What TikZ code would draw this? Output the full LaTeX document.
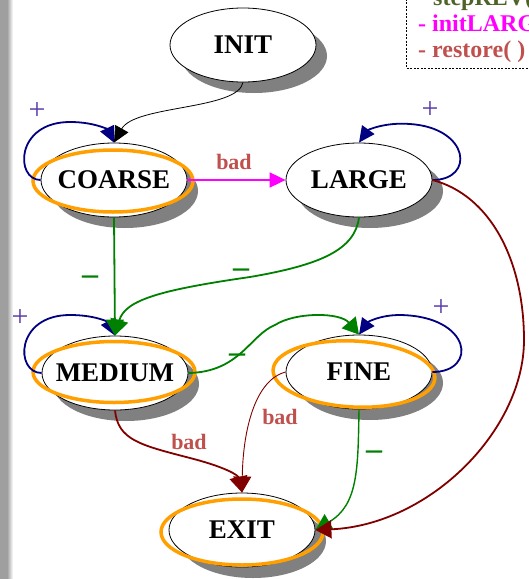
\documentclass[tikz,border=0pt]{standalone}
\usepackage{fontspec}
\setmainfont{Liberation Serif}
\usetikzlibrary{arrows.meta,shapes.geometric,shadows}

\definecolor{loopblue}{RGB}{0,0,128}
\definecolor{plusblue}{RGB}{90,60,170}
\definecolor{minusgreen}{RGB}{0,128,0}
\definecolor{badred}{RGB}{128,0,0}
\definecolor{badtext}{RGB}{192,80,77}
\definecolor{ringorange}{RGB}{255,160,0}
\definecolor{stepgreen}{RGB}{79,98,40}
\definecolor{jumppink}{RGB}{255,0,255}

\begin{document}
\begin{tikzpicture}[
    x=1pt, y=-1pt, % 像素单位, y 轴向下
    state/.style={ellipse, draw=black, line width=0.8pt, fill=white,
        minimum width=146pt, minimum height=74pt, inner xsep=-8pt, inner ysep=0pt,
        font=\fontsize{27}{30}\selectfont\bfseries,
        drop shadow={shadow xshift=11pt, shadow yshift=-11pt, fill=gray, opacity=1}},
    ring/.style={draw=ringorange, line width=3.5pt},
    loopedge/.style={draw=loopblue, line width=1.8pt, -{Triangle[length=16pt,width=15pt]}},
    goodedge/.style={draw=minusgreen, line width=1.8pt, -{Triangle[length=16pt,width=18pt]}},
    badedge/.style={draw=badred, line width=1.8pt, -{Triangle[length=16pt,width=18pt]}},
    pluslbl/.style={text=plusblue, inner sep=0pt, font=\fontsize{30}{30}\selectfont},
    minuslbl/.style={text=minusgreen, inner sep=0pt, font=\fontsize{32}{32}\selectfont\bfseries},
    badlbl/.style={text=badtext, inner sep=0pt, font=\fontsize{22}{22}\selectfont\bfseries},
    legend/.style={anchor=base west, inner sep=0pt, font=\fontsize{24}{26}\selectfont\bfseries}
    ]
    % --- 画布 ---
    \useasboundingbox (0,0) rectangle (529,579);
    \clip (0,0) rectangle (529,579);

    % 1. 左侧灰边
    \fill[gray!75] (0,0) rectangle (7,579);
    \shade[left color=gray!75, right color=white] (7,0) rectangle (13,579);

    % 2. 右上角说明框
    \draw[line width=0.8pt, dash pattern=on 2pt off 1.5pt] (406,-5) rectangle (540,68);
    \node[legend, text=stepgreen] (lg1) at (433,5) {stepREV(};
    \node[legend, text=jumppink] (lg2) at (418,31) {- initLARG};
    \node[legend, text=badtext] (lg3) at (418,57) {- restore( )};

    % 3. 状态
    \node[state] (init)   at (243,45)  {INIT};
    \node[state] (coarse) at (114,180) {COARSE};
    \node[state] (large)  at (359,180) {LARGE};
    \node[state] (medium) at (115,373) {MEDIUM};
    \node[state] (fine)   at (359,372) {FINE};
    \node[state] (exit)   at (242,530) {EXIT};

    % 橙色外圈
    \draw[ring] (113,181) ellipse [x radius=80pt, y radius=31pt];
    \draw[ring] (114,372) ellipse [x radius=81pt, y radius=30.5pt];
    \draw[ring, rotate around={-3:(354,374)}] (354,374) ellipse [x radius=81pt, y radius=33pt];
    \draw[ring] (242,532) ellipse [x radius=81pt, y radius=33pt];

    % 4. 转移
    \draw[line width=0.8pt, -{Triangle[length=16pt,width=15pt]}]
        (init.south) .. controls (238,110) and (135,105) .. (coarse.north);

    % 自环 (+)
    \draw[loopedge] (coarse.west) .. controls (15,180) and (15,122) .. (70,122)
        .. controls (95,122) and (108,130) .. (coarse.north);
    \draw[loopedge] (large.east) .. controls (475,180) and (470,128) .. (410,124)
        .. controls (385,122) and (368,130) .. (large.north);
    \draw[loopedge] (medium.west) .. controls (15,373) and (15,315) .. (70,315)
        .. controls (95,315) and (108,322) .. (medium.north);
    \draw[loopedge] (fine.east) .. controls (478,372) and (472,316) .. (400,315)
        .. controls (380,315) and (368,322) .. (fine.north);
    \node[pluslbl] (p1) at (37,111)  {+};
    \node[pluslbl] (p2) at (430,110) {+};
    \node[pluslbl] (p3) at (20,318)  {+};
    \node[pluslbl] (p4) at (441,308) {+};

    % 向下 (-)
    \draw[goodedge] (coarse.south) -- (medium.north);
    \draw[goodedge] (large.south) .. controls (355,250) and (320,265) .. (250,277)
        .. controls (160,290) and (125,300) .. (medium.north);
    \draw[goodedge] (medium.east) .. controls (240,372) and (250,335) .. (275,325)
        .. controls (295,312) and (340,312) .. (fine.north);
    \draw[goodedge, line width=1.4pt] (fine.south) .. controls (358,470) and (358,505) .. (exit.east);
    \node[minuslbl] (m1) at (90,280)  {–};
    \node[minuslbl] (m2) at (241,273) {–};
    \node[minuslbl] (m3) at (237,358) {–};
    \node[minuslbl] (m4) at (374,455) {–};

    % 失败 (bad)
    \draw[jumppink, line width=1.8pt, -{Triangle[length=16pt,width=15pt]}] (coarse.east) -- (large.west);
    \draw[badedge] (medium.south) .. controls (118,440) and (140,445) .. (190,458)
        .. controls (225,467) and (238,475) .. (exit.north);
    \draw[badedge, line width=0.9pt] (fine.west) .. controls (255,380) and (243,430) .. (exit.north);
    \draw[badedge] (large.east) .. controls (490,195) and (524,260) .. (524,340)
        .. controls (524,430) and (430,525) .. (exit.east);
    \node[badlbl] (b1) at (234,162) {bad};
    \node[badlbl] (b2) at (189,442) {bad};
    \node[badlbl] (b3) at (280,417) {bad};
\end{tikzpicture}
\end{document}
